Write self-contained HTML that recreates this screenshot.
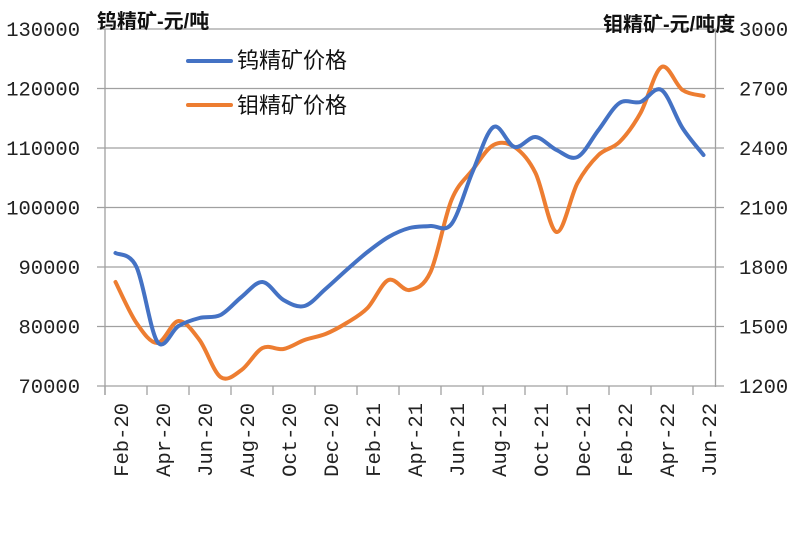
<!DOCTYPE html>
<html><head><meta charset="utf-8"><style>
html,body{margin:0;padding:0;background:#fff;}
svg{display:block;}
.t{font-family:"Liberation Mono",monospace;font-size:20.5px;fill:#222;}
.c{font-family:"Liberation Sans","Noto Sans CJK SC",sans-serif;}
</style></head><body>
<svg id="s" width="802" height="548" viewBox="0 0 802 548" xmlns="http://www.w3.org/2000/svg">
<rect width="802" height="548" fill="#fff"/>
<g stroke="#a0a0a0" stroke-width="1.3" fill="none">
<line x1="97" y1="29" x2="716" y2="29"/>
<line x1="97" y1="88.5" x2="724" y2="88.5"/>
<line x1="97" y1="148" x2="724" y2="148"/>
<line x1="97" y1="207.5" x2="724" y2="207.5"/>
<line x1="97" y1="267" x2="724" y2="267"/>
<line x1="97" y1="326.5" x2="724" y2="326.5"/>
<line x1="97" y1="386" x2="724" y2="386"/>
<line x1="105" y1="29" x2="105" y2="395"/>
<line x1="715.5" y1="29" x2="715.5" y2="387"/>
<g id="ticks"></g>
</g>
<g class="t" text-anchor="end">
<text x="80" y="36">130000</text>
<text x="80" y="95.5">120000</text>
<text x="80" y="155">110000</text>
<text x="80" y="214.5">100000</text>
<text x="80" y="274">90000</text>
<text x="80" y="333.5">80000</text>
<text x="80" y="393">70000</text>
</g>
<g class="t">
<text x="739" y="36">3000</text>
<text x="739" y="95.5">2700</text>
<text x="739" y="155">2400</text>
<text x="739" y="214.5">2100</text>
<text x="739" y="274">1800</text>
<text x="739" y="333.5">1500</text>
<text x="739" y="393">1200</text>
</g>
<g class="t" text-anchor="end" id="xl"></g>
<text class="c" x="97" y="28" font-size="20" font-weight="bold" fill="#111">钨精矿-元/吨</text>
<text class="c" x="603" y="31" font-size="20" font-weight="bold" fill="#111">钼精矿-元/吨度</text>
<line x1="188" y1="61" x2="231" y2="61" stroke="#4472C4" stroke-width="4" stroke-linecap="round"/>
<line x1="188" y1="105" x2="231" y2="105" stroke="#ED7D31" stroke-width="4" stroke-linecap="round"/>
<text class="c" x="237" y="68" font-size="22" fill="#111">钨精矿价格</text>
<text class="c" x="237" y="113" font-size="22" fill="#111">钼精矿价格</text>
<path id="po" fill="none" stroke="#ED7D31" stroke-width="4" stroke-linecap="round" stroke-linejoin="round"/>
<path id="pb" fill="none" stroke="#4472C4" stroke-width="4" stroke-linecap="round" stroke-linejoin="round"/>
</svg>
<script>
var ns="http://www.w3.org/2000/svg";
var blue=[253,267,342,326,318,315,297,282,300,306,289,270,252,237,228,226,224,172,127,147,137,150,157,130,103,102,90,128,155];
var orange=[282,323,343,321,340,377,370,348,349,340,334,323,308,280,290,272,200,170,145,147,173,232,183,155,142,113,67,90,96];
function path(ys){
  var p=ys.map(function(y,i){return [115.5+21*i,y];});
  var d="M"+p[0][0]+","+p[0][1];
  for(var i=0;i<p.length-1;i++){
    var p0=p[i-1]||p[i],p1=p[i],p2=p[i+1],p3=p[i+2]||p[i+1];
    var c1=[p1[0]+(p2[0]-p0[0])/6,p1[1]+(p2[1]-p0[1])/6];
    var c2=[p2[0]-(p3[0]-p1[0])/6,p2[1]-(p3[1]-p1[1])/6];
    d+=" C"+c1[0].toFixed(2)+","+c1[1].toFixed(2)+" "+c2[0].toFixed(2)+","+c2[1].toFixed(2)+" "+p2[0]+","+p2[1];
  }
  return d;
}
document.getElementById("pb").setAttribute("d",path(blue));
document.getElementById("po").setAttribute("d",path(orange));
var tk=document.getElementById("ticks");
for(var i=0;i<15;i++){
  var x=105+42*i;
  var l=document.createElementNS(ns,"line");
  l.setAttribute("x1",x);l.setAttribute("x2",x);l.setAttribute("y1",386);l.setAttribute("y2",395);
  tk.appendChild(l);
}
var labs=["Feb-20","Apr-20","Jun-20","Aug-20","Oct-20","Dec-20","Feb-21","Apr-21","Jun-21","Aug-21","Oct-21","Dec-21","Feb-22","Apr-22","Jun-22"];
var xl=document.getElementById("xl");
labs.forEach(function(s,i){
  var t=document.createElementNS(ns,"text");
  var x=128+42*i;
  t.setAttribute("transform","translate("+x+",403) rotate(-90)");
  t.textContent=s;
  xl.appendChild(t);
});
</script>
</body></html>
